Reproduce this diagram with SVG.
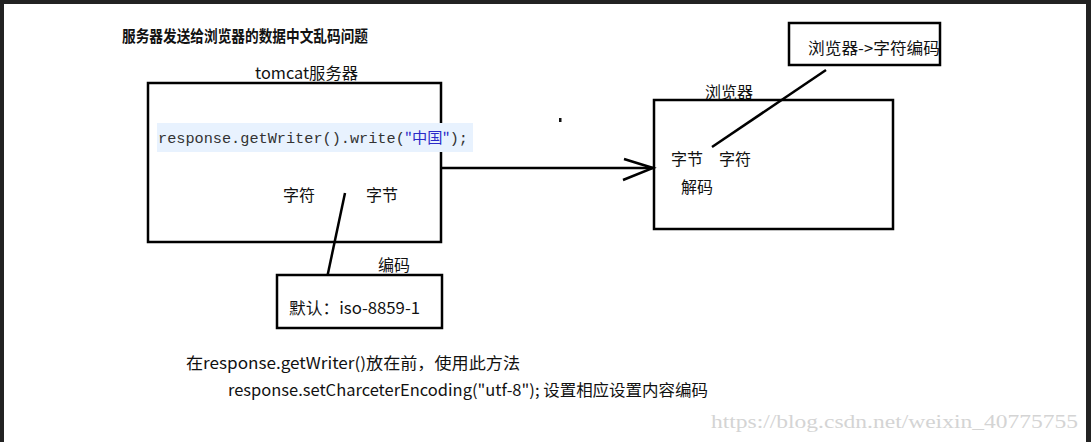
<svg xmlns="http://www.w3.org/2000/svg" width="1091" height="442" viewBox="0 0 1091 442">
<style>
text{font-family:"Noto Sans CJK SC","Microsoft YaHei",sans-serif;font-size:16px;fill:#111}
.box{fill:#fff;stroke:#000;stroke-width:2.5}
.ln{stroke:#000;stroke-width:2.5;fill:none}
.code{font-family:"Liberation Mono","DejaVu Sans Mono",monospace;font-size:15px;fill:#333}
.blue{fill:#2a2ac8;font-family:"Noto Sans CJK SC",sans-serif}
</style>
<rect width="1091" height="442" fill="#fff"/>
<rect x="0" y="0" width="1091" height="4" fill="#222"/>
<rect x="0" y="0" width="4" height="442" fill="#222"/>
<rect x="1086" y="0" width="5" height="442" fill="#222"/>
<rect x="559" y="118" width="2.5" height="4" fill="#111"/>
<text x="122" y="42" font-weight="bold" font-size="14" textLength="246" lengthAdjust="spacingAndGlyphs">服务器发送给浏览器的数据中文乱码问题</text>

<g id="connectors">
<line class="ln" x1="345" y1="193" x2="327" y2="278"/>
<line class="ln" x1="441" y1="168" x2="653" y2="168"/>
<polyline class="ln" points="624,159 653,168 623,180"/>
<line class="ln" x1="712" y1="147" x2="826" y2="70"/>
</g>

<g id="tomcat">
<rect class="box" x="148" y="83" width="293" height="159" style="fill:none"/>
<text x="255" y="79" textLength="103" lengthAdjust="spacingAndGlyphs">tomcat服务器</text>
<rect x="157" y="123" width="316" height="29" fill="#e8f2fe"/>
<text x="158" y="143" textLength="310" lengthAdjust="spacingAndGlyphs"><tspan class="code">response.getWriter().write(</tspan><tspan class="blue" font-size="15">"中国"</tspan><tspan class="code" fill="#000">);</tspan></text>
<text x="283" y="201">字符</text>
<text x="366" y="201">字节</text>
</g>

<g id="encoding">
<rect class="box" x="277" y="275" width="165" height="53"/>
<text x="378" y="271">编码</text>
<text x="289" y="314" textLength="131" lengthAdjust="spacingAndGlyphs">默认：iso-8859-1</text>
</g>

<g id="browser">
<rect class="box" x="654" y="100" width="239" height="129" style="fill:none"/>
<text x="705" y="98">浏览器</text>
<text x="671" y="165">字节</text>
<text x="719" y="165">字符</text>
<text x="681" y="193">解码</text>
</g>

<g id="charset">
<rect class="box" x="789" y="23" width="151" height="42"/>
<text x="808" y="54" textLength="132" lengthAdjust="spacingAndGlyphs">浏览器-&gt;字符编码</text>
</g>

<g id="notes">
<text x="186" y="369" textLength="334" lengthAdjust="spacingAndGlyphs">在response.getWriter()放在前，使用此方法</text>
<text x="228" y="396" textLength="480" lengthAdjust="spacingAndGlyphs">response.setCharceterEncoding("utf-8"); 设置相应设置内容编码</text>
</g>
<text x="711" y="428" style="font-family:'Liberation Serif',serif;fill:#d4d4d4;font-size:18px" textLength="367" lengthAdjust="spacingAndGlyphs">https://blog.csdn.net/weixin_40775755</text>
</svg>
